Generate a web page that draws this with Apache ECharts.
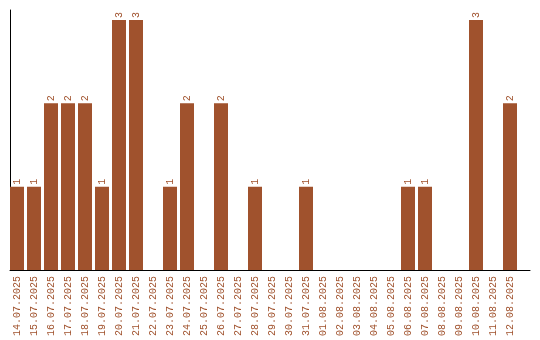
<!DOCTYPE html>
<html><head><meta charset="utf-8">
<script src="https://cdn.jsdelivr.net/npm/echarts@6/dist/echarts.min.js"></script>
<style>html,body{margin:0;padding:0;background:#fff}#c{width:540px;height:340px}</style>
</head><body><div id="c"></div>
<script>
const categories = ["14.07.2025","15.07.2025","16.07.2025","17.07.2025","18.07.2025","19.07.2025","20.07.2025","21.07.2025","22.07.2025","23.07.2025","24.07.2025","25.07.2025","26.07.2025","27.07.2025","28.07.2025","29.07.2025","30.07.2025","31.07.2025","01.08.2025","02.08.2025","03.08.2025","04.08.2025","05.08.2025","06.08.2025","07.08.2025","08.08.2025","09.08.2025","10.08.2025","11.08.2025","12.08.2025"];
const counts = [1,1,2,2,2,1,3,3,0,1,2,0,2,0,1,0,0,1,0,0,0,0,0,1,1,0,0,3,0,2];
const color = '#A0522D';
const font = 'Liberation Mono';
const chart = echarts.init(document.getElementById('c'), null, {renderer:'canvas'});
chart.setOption({
  animation:false,
  grid:[
    {left:8.5, width:510, top:20, height:250},
    {left:10, right:10, top:10, bottom:70}
  ],
  xAxis:[
    {type:'category', gridIndex:0, data:categories, boundaryGap:true,
     axisLine:{show:false}, axisTick:{show:false}, splitLine:{show:false},
     axisLabel:{rotate:90, interval:0, margin:6, color:color, fontFamily:font, fontSize:10}},
    {type:'value', gridIndex:1, min:0, max:1, axisLine:{show:true, lineStyle:{color:'#000', width:1}},
     axisTick:{show:false}, axisLabel:{show:false}, splitLine:{show:false}}
  ],
  yAxis:[
    {type:'value', gridIndex:0, min:0, max:3, show:false, splitLine:{show:false}},
    {type:'value', gridIndex:1, min:0, max:1, axisLine:{show:true, lineStyle:{color:'#000', width:1}},
     axisTick:{show:false}, axisLabel:{show:false}, splitLine:{show:false}}
  ],
  series:[{
    type:'bar', xAxisIndex:0, yAxisIndex:0, data:counts, barWidth:14,
    itemStyle:{color:color},
    label:{show:true, position:'top', rotate:90, align:'left', verticalAlign:'middle', distance:2,
      color:color, fontFamily:font, fontSize:10,
      formatter:p => p.value ? String(p.value) : ''}
  }]
});
</script></body></html>
